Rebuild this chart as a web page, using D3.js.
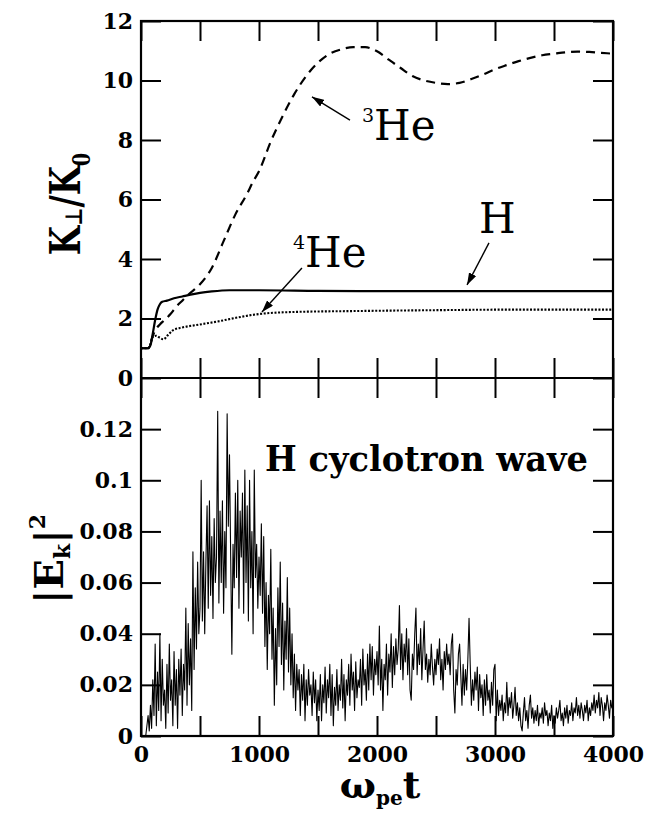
<!DOCTYPE html>
<html>
<head>
<meta charset="utf-8">
<script src="https://cdn.jsdelivr.net/npm/d3@7"></script>
<style>
  body { margin: 0; background: #fff; }
  svg { display: block; font-family: "DejaVu Serif", serif; }
  .axis .domain { display: none; }
  .axis line { stroke: #000; stroke-width: 2; }
  .axis text { font-family: "DejaVu Serif", serif; font-size: 22px; font-weight: bold; fill: #000; }
</style>
</head>
<body>
<div class="chart"></div>
<script>
/* top panel: K_perp / K_0 */
const hT   = [0, 60, 80, 100, 120, 140, 160, 180, 220, 280, 350, 420, 500, 600, 750, 1000, 1500, 2000, 3000, 4000];
const hV   = [1.0, 1.0, 1.1, 1.5, 1.95, 2.3, 2.48, 2.56, 2.6, 2.68, 2.74, 2.8, 2.86, 2.91, 2.95, 2.95, 2.93, 2.92, 2.92, 2.92];

const he4T = [0, 60, 80, 100, 130, 160, 190, 230, 270, 350, 470, 650, 800, 1000, 1300, 1800, 2500, 3200, 4000];
const he4V = [1.0, 1.0, 1.15, 1.38, 1.42, 1.35, 1.3, 1.45, 1.6, 1.7, 1.78, 1.9, 2.02, 2.15, 2.22, 2.25, 2.28, 2.3, 2.3];

const he3T = [0, 60, 90, 120, 160, 200, 250, 300, 350, 400, 500, 600, 700, 800, 900, 950, 1000, 1100, 1200, 1300, 1400, 1500, 1600,
              1700, 1800, 1900, 2000, 2100, 2200, 2300, 2400, 2500, 2600, 2700, 2800, 2900, 3000, 3100, 3200, 3300, 3400, 3500,
              3600, 3700, 3800, 3900, 4000];
const he3V = [1.0, 1.0, 1.3, 1.6, 1.8, 1.95, 2.15, 2.4, 2.6, 2.8, 3.15, 3.7, 4.6, 5.5, 6.2, 6.6, 6.95, 7.95, 8.8, 9.55, 10.15, 10.6, 10.9,
              11.05, 11.12, 11.12, 10.98, 10.7, 10.42, 10.15, 10.0, 9.92, 9.88, 9.92, 10.05, 10.2, 10.38, 10.52, 10.65, 10.76, 10.85, 10.9,
              10.95, 10.97, 10.96, 10.93, 10.9];

const kTicks = [0, 2, 4, 6, 8, 10, 12];

/* bottom panel: |E_k|^2, sampled every 10 from t = 40 */
const ekStart = 40;
const ekStep = 10;
const ekValues = [
  .000,.004,.008,.002,.012,.003,.022,.008,.036,.004,
  .025,.010,.040,.006,.030,.012,.018,.003,.028,.009,
  .036,.014,.022,.004,.033,.012,.026,.003,.030,.016,
  .034,.008,.028,.018,.050,.012,.044,.020,.038,.010,
  .072,.026,.058,.034,.068,.040,
  .050,.100,.045,.072,.040,.068,.090,.050,.092,.055,
  .078,.046,.085,.060,.070,.127,.052,.088,.060,.092,
  .048,.080,.058,.126,.082,.110,.070,.032,.075,.058,
  .095,.062,.100,.050,.088,.070,.095,.048,.104,.060,
  .090,.045,.100,.058,.080,.040,.104,.062,.075,.050,
  .070,.055,.083,.048,.078,.035,.060,.026,.055,.040,
  .073,.030,.050,.012,.042,.020,.058,.035,.068,.028,
  .052,.018,.045,.030,.062,.025,.050,.020,.040,.015,
  .032,.010,.028,.018,.026,.008,.024,.014,.028,.006,
  .022,.012,.026,.016,.020,.008,.025,.013,.022,.006,
  .018,.010,.024,.006,.020,.013,.027,.009,.022,.015,
  .028,.008,.024,.004,.019,.012,.026,.010,.020,.014,
  .030,.011,.024,.006,.022,.016,.028,.012,.032,.018,
  .025,.010,.029,.015,.022,.019,.030,.012,.034,.020,
  .026,.014,.032,.018,.036,.022,.035,.016,.030,.024,
  .033,.020,.043,.018,.030,.010,.028,.022,.036,.016,
  .032,.025,.040,.019,.035,.024,.038,.028,.034,.051,
  .026,.040,.022,.036,.029,.042,.024,.038,.018,.014,
  .032,.026,.040,.050,.024,.036,.028,.042,.022,.034,
  .045,.026,.032,.021,.030,.024,.036,.027,.020,.030,
  .024,.034,.028,.038,.022,.030,.018,.033,.026,.036,
  .028,.032,.024,.036,.040,.018,.009,.026,.020,.032,
  .036,.024,.012,.028,.016,.026,.018,.030,.046,.028,
  .012,.022,.014,.025,.018,.027,.010,.024,.015,.020,
  .008,.022,.012,.024,.014,.018,.009,.021,.012,.026,
  .028,.006,.018,.008,.014,.010,.016,.006,.013,.009,
  .021,.008,.015,.011,.017,.007,.012,.019,.008,.013,
  .006,.011,.004,.002,.009,.015,.006,.010,.003,.012,
  .016,.007,.011,.005,.010,.006,.012,.004,.009,.007,
  .011,.005,.013,.008,.010,.004,.009,.006,.012,.003,
  .008,.005,.011,.007,.010,.014,.006,.009,.004,.011,
  .007,.012,.005,.010,.008,.013,.006,.011,.009,.015,
  .008,.012,.007,.013,.010,.006,.012,.009,.014,.006,
  .011,.008,.013,.010,.016,.009,.014,.011,.017,.008,
  .015,.012,.006,.013,.010,.016,.012,.007,.014,.011,
  .013
];
const ekTicks = [0, 0.02, 0.04, 0.06, 0.08, 0.1, 0.12];
const ekTickLabels = ["0", "0.02", "0.04", "0.06", "0.08", "0.1", "0.12"];

const timeTicks = [0, 500, 1000, 1500, 2000, 2500, 3000, 3500, 4000];
const timeLabels = ["0", "", "1000", "", "2000", "", "3000", "", "4000"];

/* canvas */
const svg_width = 659;
const svg_height = 813;
const plot = { left: 141, right: 613, top: 21, mid: 378, bottom: 736 };
const tickLen = 20;

const svg = d3.select(".chart").append("svg")
    .attr("width", svg_width)
    .attr("height", svg_height);

const x = d3.scaleLinear().domain([0, 4000]).range([plot.left, plot.right]);
const yTop = d3.scaleLinear().domain([0, 12]).range([plot.mid, plot.top]);
const yBot = d3.scaleLinear().domain([0, 0.14]).range([plot.bottom, plot.mid]);

/* arrow head */
svg.append("defs").append("marker")
    .attr("id", "arrow")
    .attr("viewBox", "0 0 12 8")
    .attr("refX", 12).attr("refY", 4)
    .attr("markerWidth", 12).attr("markerHeight", 8)
    .attr("markerUnits", "userSpaceOnUse")
    .attr("orient", "auto")
    .append("path").attr("d", "M0,0L12,4L0,8z").attr("fill", "#000");

/* top panel lines */
const lineTop = d3.line()
    .x(d => x(d[0]))
    .y(d => yTop(d[1]))
    .curve(d3.curveMonotoneX);

const topSeries = [
    { name: "H",   t: hT,   v: hV,   dash: null,    width: 2.2 },
    { name: "3He", t: he3T, v: he3V, dash: "9,6",   width: 2.2 },
    { name: "4He", t: he4T, v: he4V, dash: "2,1.6", width: 2.1 }
];

svg.append("g").selectAll("path")
    .data(topSeries)
    .join("path")
    .attr("d", d => lineTop(d.t.map((t, i) => [t, d.v[i]])))
    .attr("fill", "none")
    .attr("stroke", "#000")
    .attr("stroke-width", d => d.width)
    .attr("stroke-dasharray", d => d.dash);

/* bottom panel line */
const lineBot = d3.line()
    .x((d, i) => x(ekStart + i * ekStep))
    .y(d => yBot(d));

svg.append("path")
    .attr("d", lineBot(ekValues))
    .attr("fill", "none")
    .attr("stroke", "#000")
    .attr("stroke-width", 1.1)
    .attr("stroke-linejoin", "round");

/* frame */
svg.append("rect")
    .attr("x", plot.left).attr("y", plot.top)
    .attr("width", plot.right - plot.left).attr("height", plot.bottom - plot.top)
    .attr("fill", "none").attr("stroke", "#000").attr("stroke-width", 2.2);
svg.append("line")
    .attr("x1", plot.left).attr("x2", plot.right)
    .attr("y1", plot.mid).attr("y2", plot.mid)
    .attr("stroke", "#000").attr("stroke-width", 2.2);

/* axes */
svg.append("g").attr("class", "axis")
    .attr("transform", `translate(${plot.left},0)`)
    .call(d3.axisLeft(yTop).tickValues(kTicks).tickSizeInner(-tickLen).tickSizeOuter(0).tickPadding(8));
svg.append("g").attr("class", "axis")
    .attr("transform", `translate(${plot.right},0)`)
    .call(d3.axisRight(yTop).tickValues(kTicks).tickSizeInner(-tickLen).tickSizeOuter(0).tickFormat(""));

svg.append("g").attr("class", "axis")
    .attr("transform", `translate(${plot.left},0)`)
    .call(d3.axisLeft(yBot).tickValues(ekTicks).tickSizeInner(-tickLen).tickSizeOuter(0).tickPadding(8)
        .tickFormat((d, i) => ekTickLabels[i]));
svg.append("g").attr("class", "axis")
    .attr("transform", `translate(${plot.right},0)`)
    .call(d3.axisRight(yBot).tickValues(ekTicks).tickSizeInner(-tickLen).tickSizeOuter(0).tickFormat(""));

svg.append("g").attr("class", "axis")
    .attr("transform", `translate(0,${plot.top})`)
    .call(d3.axisTop(x).tickValues(timeTicks).tickSizeInner(-tickLen).tickSizeOuter(0).tickFormat(""));
svg.append("g").attr("class", "axis")
    .attr("transform", `translate(0,${plot.mid})`)
    .call(d3.axisBottom(x).tickValues(timeTicks).tickSizeInner(-tickLen).tickSizeOuter(0).tickFormat(""));
svg.append("g").attr("class", "axis")
    .attr("transform", `translate(0,${plot.mid})`)
    .call(d3.axisTop(x).tickValues(timeTicks).tickSizeInner(-tickLen).tickSizeOuter(0).tickFormat(""));
svg.append("g").attr("class", "axis")
    .attr("transform", `translate(0,${plot.bottom})`)
    .call(d3.axisBottom(x).tickValues(timeTicks).tickSizeInner(-tickLen).tickSizeOuter(0).tickPadding(10)
        .tickFormat((d, i) => timeLabels[i]));

/* annotations */
const notes = svg.append("g").attr("font-family", "DejaVu Serif, serif").attr("fill", "#000");

function arrow(t0, v0, t1, v1) {
    notes.append("line")
        .attr("x1", x(t0)).attr("y1", yTop(v0))
        .attr("x2", x(t1)).attr("y2", yTop(v1))
        .attr("stroke", "#000").attr("stroke-width", 1.4)
        .attr("marker-end", "url(#arrow)");
}
function isotope(t, v, mass) {
    const txt = notes.append("text").attr("x", x(t)).attr("y", yTop(v)).attr("font-size", 42);
    txt.append("tspan").attr("font-size", 19).attr("dy", -18).text(mass);
    txt.append("tspan").attr("dy", 18).text("He");
}

arrow(1771, 8.67, 1449, 9.45);
isotope(1873, 8.0, "3");

arrow(2949, 4.54, 2763, 3.13);
notes.append("text")
    .attr("x", x(3020)).attr("y", yTop(4.87))
    .attr("text-anchor", "middle").attr("font-size", 42)
    .text("H");

arrow(1364, 3.70, 1025, 2.22);
isotope(1288, 3.73, "4");

notes.append("text")
    .attr("x", x(1051)).attr("y", yBot(0.1035))
    .attr("font-size", 36).attr("font-weight", "bold")
    .attr("textLength", 323).attr("lengthAdjust", "spacingAndGlyphs")
    .text("H cyclotron wave");

/* axis titles */
const titles = svg.append("g").attr("font-family", "DejaVu Serif, serif").attr("font-weight", "bold").attr("fill", "#000");

const kLabel = titles.append("text")
    .attr("transform", "translate(80,204) rotate(-90) scale(0.8,1)")
    .attr("text-anchor", "middle").attr("font-size", 42);
kLabel.append("tspan").text("K");
kLabel.append("tspan").attr("font-size", 24).attr("dy", 2).text("\u22A5");
kLabel.append("tspan").attr("dy", -2).text("/K");
kLabel.append("tspan").attr("font-size", 24).attr("dy", 10).text("0");

const eLabel = titles.append("text")
    .attr("transform", "translate(63,559) rotate(-90)")
    .attr("text-anchor", "middle").attr("font-size", 40);
eLabel.append("tspan").text("|E");
eLabel.append("tspan").attr("font-size", 22).attr("dy", 7).text("k");
eLabel.append("tspan").attr("dy", -7).text("|");
eLabel.append("tspan").attr("font-size", 22).attr("dy", -18).text("2");

const tLabel = titles.append("text")
    .attr("x", 380).attr("y", 798)
    .attr("text-anchor", "middle").attr("font-size", 38);
tLabel.append("tspan").text("\u03C9");
tLabel.append("tspan").attr("font-size", 20).attr("dy", 7).text("pe");
tLabel.append("tspan").attr("dy", -7).text("t");
</script>
</body>
</html>
